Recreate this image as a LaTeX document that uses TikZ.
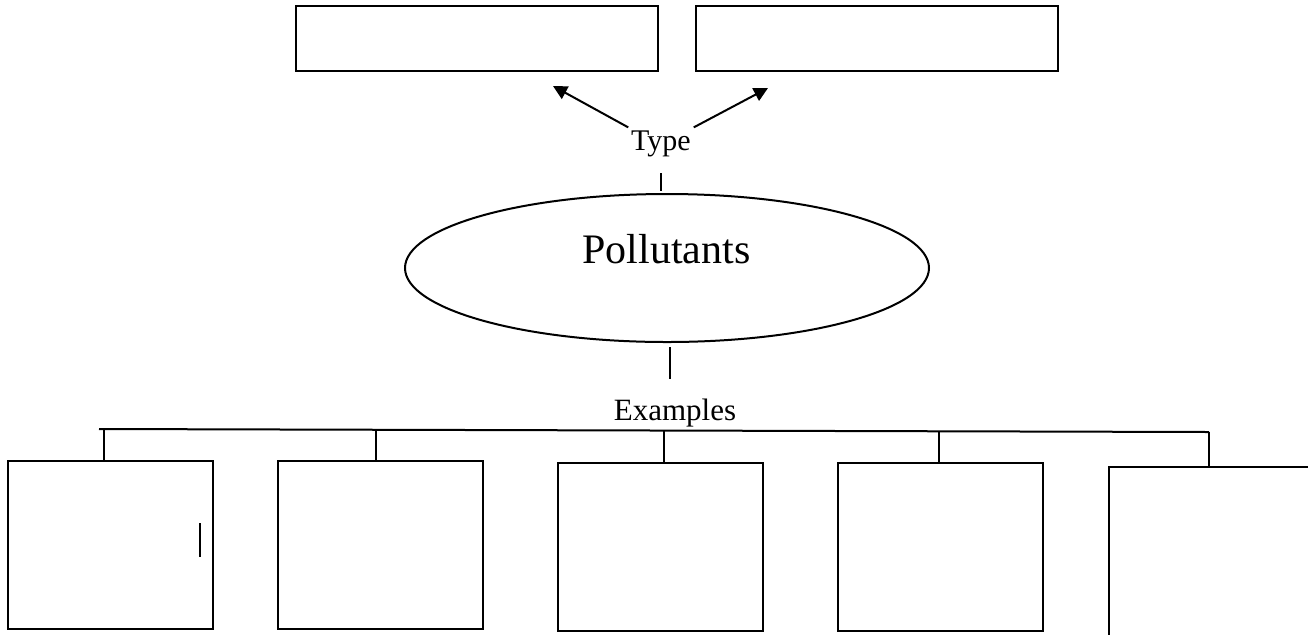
\documentclass[tikz,border=0pt]{standalone}
\usepackage{fontspec}
\setmainfont{Liberation Serif}
\usetikzlibrary{shapes.geometric,arrows.meta}
\begin{document}
\begin{tikzpicture}[x=0.5pt,y=-0.5pt,>={Triangle[length=7pt,width=7pt]},line width=1pt,
  topbox/.style={rectangle,draw=black,minimum width=181pt,minimum height=32.5pt,inner sep=0pt},
  exbox/.style={rectangle,draw=black,minimum width=102.5pt,minimum height=84pt,inner sep=0pt}]
\useasboundingbox (0,0) rectangle (1308,634);
\clip (0,0) rectangle (1308,634);
\node (k1) at (477,38)[topbox]{};
\node (k2) at (877,38.5)[topbox]{};
\node (type) at (661,150)[anchor=base,inner sep=1pt,font=\fontsize{15}{18}\selectfont]{Type};
\coordinate (a1) at (553,86);
\coordinate (a2) at (768,88);
\draw[->](type.north west)--(a1);
\draw[->](type.north east)--(a2);

\node (pol) at (667,268)[ellipse,draw=black,minimum width=262pt,minimum height=74pt,inner sep=0pt]{};
\node (poltext) at (666.5,263)[anchor=base,inner sep=0pt,font=\fontsize{21}{25}\selectfont]{Pollutants};
\coordinate (t1) at (661,173);
\coordinate (t2) at (661,191);
\draw (t1)--(t2);
\coordinate (t3) at (670,347);
\coordinate (t4) at (670,379);
\draw (t3)--(t4);
\node (ex) at (675,420)[anchor=base,inner sep=0pt,font=\fontsize{15.5}{18}\selectfont]{Examples};

\node (b1) at (110.5,545)[exbox]{};
\node (b2) at (380,545)[exbox]{};
\node (b3) at (660,547)[exbox]{};
\node (b4) at (940,547)[exbox]{};
\node (b5) at (1211.5,567)[exbox,minimum height=100pt]{};
\coordinate (s0) at (99,429);
\coordinate (s1) at (104,429);
\coordinate (s2) at (376,430);
\coordinate (s3) at (664,431);
\coordinate (s4) at (939,431);
\coordinate (s5) at (1209,432);
\draw (s0)--(s5);
\draw (s1)--(s1 |- b1.north);
\draw (s2)--(s2 |- b2.north);
\draw (s3)--(s3 |- b3.north);
\draw (s4)--(s4 |- b4.north);
\draw (s5)--(s5 |- b5.north);
\coordinate (m1) at (200,523);
\coordinate (m2) at (200,557);
\draw (m1)--(m2);
\end{tikzpicture}
\end{document}
